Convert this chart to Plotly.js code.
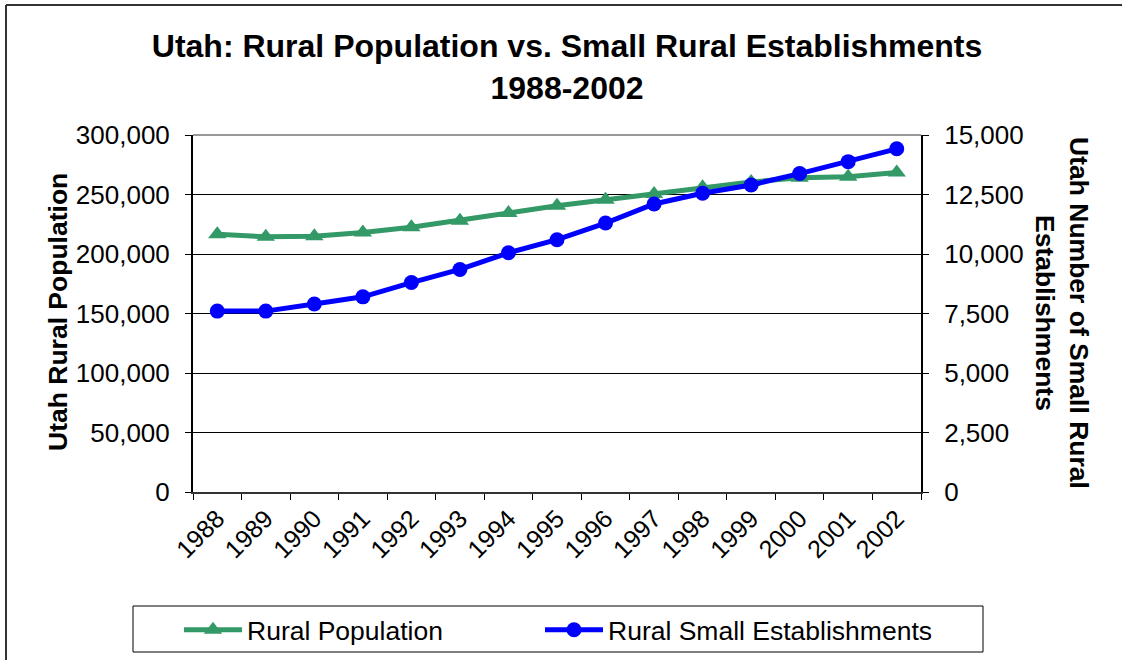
<!DOCTYPE html>
<html>
<head>
<meta charset="utf-8">
<script src="https://cdn.plot.ly/plotly-3.0.1.min.js"></script>
<style>
  html, body { margin: 0; padding: 0; background: #fff; }
  #chart { width: 1122px; height: 660px; }
</style>
</head>
<body>
<div id="chart"></div>
<script>
// Utah rural population and count of small rural establishments, 1988-2002
const years = ['1988','1989','1990','1991','1992','1993','1994','1995',
               '1996','1997','1998','1999','2000','2001','2002'];
const ruralPopulation = [216500, 214500, 215000, 218000, 222500, 228000, 234500, 240500,
                         245500, 250500, 256000, 260500, 264000, 265000, 268500];
const smallEstablishments = [7600, 7600, 7900, 8200, 8800, 9350, 10050, 10600,
                             11300, 12100, 12550, 12900, 13380, 13880, 14420];
const leftTicks = [0, 50000, 100000, 150000, 200000, 250000, 300000];
const rightTicks = [0, 2500, 5000, 7500, 10000, 12500, 15000];

const FONT = 'Liberation Sans, Arial, sans-serif';
const GREEN = '#339966';
const BLUE = '#0000FF';

// plot area in pixels
const L = 193, R = 921, T = 135, B = 492;
const px = x => (x - L) / (R - L);
const py = y => (B - y) / (B - T);

const traces = [
  {
    x: years, y: ruralPopulation, name: 'Rural Population',
    type: 'scatter', mode: 'lines+markers', yaxis: 'y', legend: 'legend',
    line: { color: GREEN, width: 5 },
    marker: { symbol: 'triangle-up', size: 16, color: GREEN }
  },
  {
    x: years, y: smallEstablishments, name: 'Rural Small Establishments',
    type: 'scatter', mode: 'lines+markers', yaxis: 'y2', legend: 'legend2',
    line: { color: BLUE, width: 5 },
    marker: { symbol: 'circle', size: 15, color: BLUE }
  }
];

const legendStyle = (left) => ({
  orientation: 'h', xref: 'paper', yref: 'paper',
  x: px(left), xanchor: 'left', y: py(630), yanchor: 'middle',
  bgcolor: 'rgba(0,0,0,0)', borderwidth: 0,
  font: { family: FONT, size: 26.5, color: '#000' },
  itemwidth: 58
});

const layout = {
  width: 1122, height: 660,
  margin: { l: L, r: 1122 - R, t: T, b: 660 - B, pad: 0, autoexpand: false },
  paper_bgcolor: '#fff', plot_bgcolor: '#fff',
  font: { family: FONT, color: '#000', size: 26 },
  showlegend: true,
  title: {
    text: '<b>Utah: Rural Population vs. Small Rural Establishments<br>1988-2002</b>',
    font: { family: FONT, size: 32, color: '#000' },
    xref: 'container', x: 567 / 1122, xanchor: 'center',
    yref: 'container', y: 1 - 57 / 660, yanchor: 'middle'
  },
  xaxis: {
    type: 'category', range: [-0.5, 14.5], tickson: 'boundaries',
    ticks: 'outside', ticklen: 6, tickcolor: '#000', tickwidth: 1,
    tickangle: -45, tickfont: { family: FONT, size: 25 },
    showline: true, linecolor: '#333', linewidth: 2,
    showgrid: false, zeroline: false, fixedrange: true
  },
  xaxis2: {
    overlaying: 'x', anchor: 'y', range: [-0.5, 14.5],
    tick0: -0.5, dtick: 1, ticks: 'inside', ticklen: 6, tickcolor: '#000',
    showticklabels: false, showgrid: false, zeroline: false, showline: false
  },
  yaxis: {
    range: [0, 300000], tickvals: leftTicks, tickformat: ',d',
    ticks: 'outside', ticklen: 6, tickcolor: '#000',
    tickfont: { family: FONT, size: 26 }, ticklabelstandoff: 10,
    showline: true, linecolor: '#000', linewidth: 2,
    showgrid: true, gridcolor: '#000', gridwidth: 1, zeroline: false
  },
  yaxis2: {
    overlaying: 'y', side: 'right', range: [0, 15000], tickvals: rightTicks,
    tickformat: ',d', ticks: 'outside', ticklen: 6, tickcolor: '#000',
    tickfont: { family: FONT, size: 26 }, ticklabelstandoff: 10,
    showline: true, linecolor: '#000', linewidth: 2,
    showgrid: false, zeroline: false
  },
  legend: legendStyle(179),
  legend2: legendStyle(540),
  annotations: [
    {
      text: '<b>Utah Rural Population</b>', textangle: -90,
      xref: 'paper', yref: 'paper', x: px(58), y: py(312),
      xanchor: 'center', yanchor: 'middle', showarrow: false,
      font: { family: FONT, size: 26.5, color: '#000' }
    },
    {
      text: '<b>Utah Number of Small Rural<br>Establishments</b>', textangle: 90,
      xref: 'paper', yref: 'paper', x: px(1062), y: py(313),
      xanchor: 'center', yanchor: 'middle', showarrow: false,
      font: { family: FONT, size: 26.5, color: '#000' }
    }
  ],
  shapes: [
    // chart frame (top and left edges)
    { type: 'line', xref: 'paper', yref: 'paper', x0: px(6), x1: px(1130), y0: py(5), y1: py(5),
      line: { color: '#333', width: 2 } },
    { type: 'line', xref: 'paper', yref: 'paper', x0: px(6), x1: px(6), y0: py(5), y1: py(670),
      line: { color: '#333', width: 2 } },
    // top edge of plot area
    { type: 'line', xref: 'paper', yref: 'paper', x0: 0, x1: 1, y0: 1, y1: 1,
      line: { color: '#999', width: 2 } },
    // legend frame
    { type: 'rect', xref: 'paper', yref: 'paper', x0: px(133), x1: px(983), y0: py(606), y1: py(652),
      line: { color: '#000', width: 1 }, fillcolor: 'rgba(0,0,0,0)' }
  ]
};

Plotly.newPlot('chart', traces, layout, { staticPlot: true, displayModeBar: false });
</script>
</body>
</html>
